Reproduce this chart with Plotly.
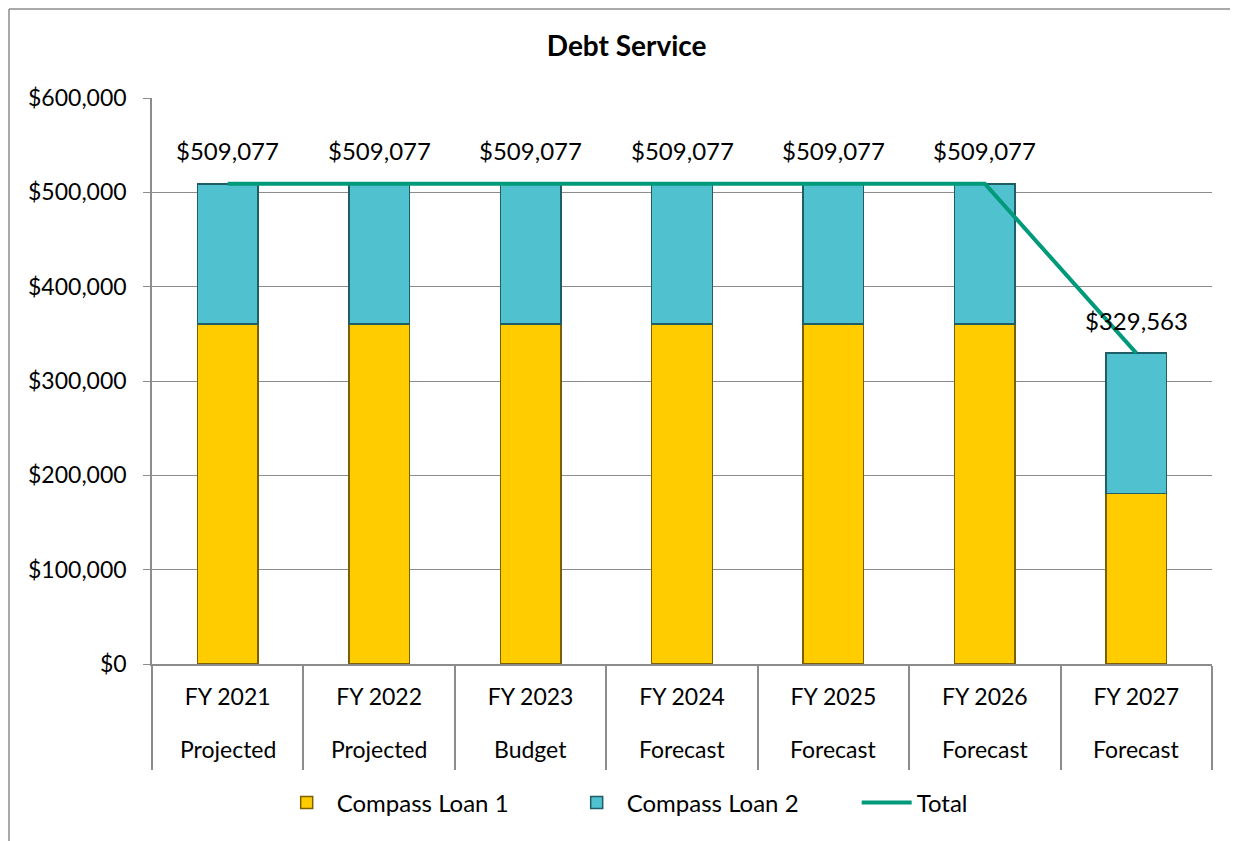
import plotly.graph_objects as go

fy_labels = ["FY 2021", "FY 2022", "FY 2023", "FY 2024", "FY 2025", "FY 2026", "FY 2027"]
phase_labels = ["Projected", "Projected", "Budget", "Forecast", "Forecast", "Forecast", "Forecast"]
loan1 = [360277, 360277, 360277, 360277, 360277, 360277, 180763]
loan2 = [148800, 148800, 148800, 148800, 148800, 148800, 148800]
total = [509077, 509077, 509077, 509077, 509077, 509077, 329563]
total_labels = ["$509,077", "$509,077", "$509,077", "$509,077", "$509,077", "$509,077", "$329,563"]

FONT = "Lato, Carlito, Calibri, sans-serif"

fig = go.Figure()
fig.add_trace(go.Bar(x=fy_labels, y=loan1, name="Compass Loan 1",
                     marker=dict(color="#FFCC00", line=dict(color="#7A6000", width=1.5))))
fig.add_trace(go.Bar(x=fy_labels, y=loan2, name="Compass Loan 2",
                     marker=dict(color="#4FC1CF", line=dict(color="#1F5E66", width=1.5))))
fig.add_trace(go.Scatter(x=fy_labels, y=total, name="Total", mode="lines",
                         line=dict(color="#009A7A", width=4)))

for c, t, lab in zip(fy_labels, total, total_labels):
    fig.add_annotation(x=c, y=t, text=lab, showarrow=False, yshift=33,
                       font=dict(size=24, color="black", family=FONT))

for c, p in zip(fy_labels, phase_labels):
    fig.add_annotation(x=c, y=-0.150, yref="paper", text=p, showarrow=False,
                       yanchor="middle", font=dict(size=23, color="black", family=FONT))

# outer chart frame (only top and left edges visible in the reference)
fig.add_shape(type="line", xref="paper", yref="paper",
              x0=-0.1349, x1=-0.1349, y0=-0.4, y1=1.1572,
              line=dict(color="#8C8C8C", width=1.5), layer="below")
fig.add_shape(type="line", xref="paper", yref="paper",
              x0=-0.1349, x1=1.1, y0=1.1572, y1=1.1572,
              line=dict(color="#8C8C8C", width=1.5), layer="below")

fig.update_layout(
    width=1230, height=833,
    margin=dict(l=144, r=26, t=90, b=177),
    paper_bgcolor="white", plot_bgcolor="white",
    barmode="stack", bargap=0.6,
    font=dict(family=FONT, color="black", size=23),
    title=dict(text="<b>Debt Service</b>", x=0.503, xref="container", y=0.954, yref="container",
               xanchor="center", yanchor="middle", font=dict(size=28, family=FONT, color="black")),
    legend=dict(orientation="h", x=0.528, xanchor="center", y=-0.2456, yanchor="middle",
                font=dict(size=24, family=FONT), itemwidth=50, traceorder="normal",
                entrywidth=225, entrywidthmode="pixels"),
    showlegend=True,
)
fig.update_xaxes(showline=True, linecolor="#8C8C8C", linewidth=1.5,
                 ticks="outside", tickson="boundaries", ticklen=104, tickcolor="#8C8C8C", tickwidth=1.5,
                 tickfont=dict(size=23, family=FONT), ticklabelstandoff=12, showgrid=False)
fig.update_yaxes(range=[0, 600000], dtick=100000, tickprefix="$", tickformat=",d",
                 showline=True, linecolor="#8C8C8C", linewidth=1.5,
                 ticks="outside", ticklen=7, tickcolor="#8C8C8C", ticklabelstandoff=12,
                 showgrid=True, gridcolor="#8C8C8C", gridwidth=1.2, zeroline=False,
                 tickfont=dict(size=23, family=FONT))

fig.write_html("out.html")
